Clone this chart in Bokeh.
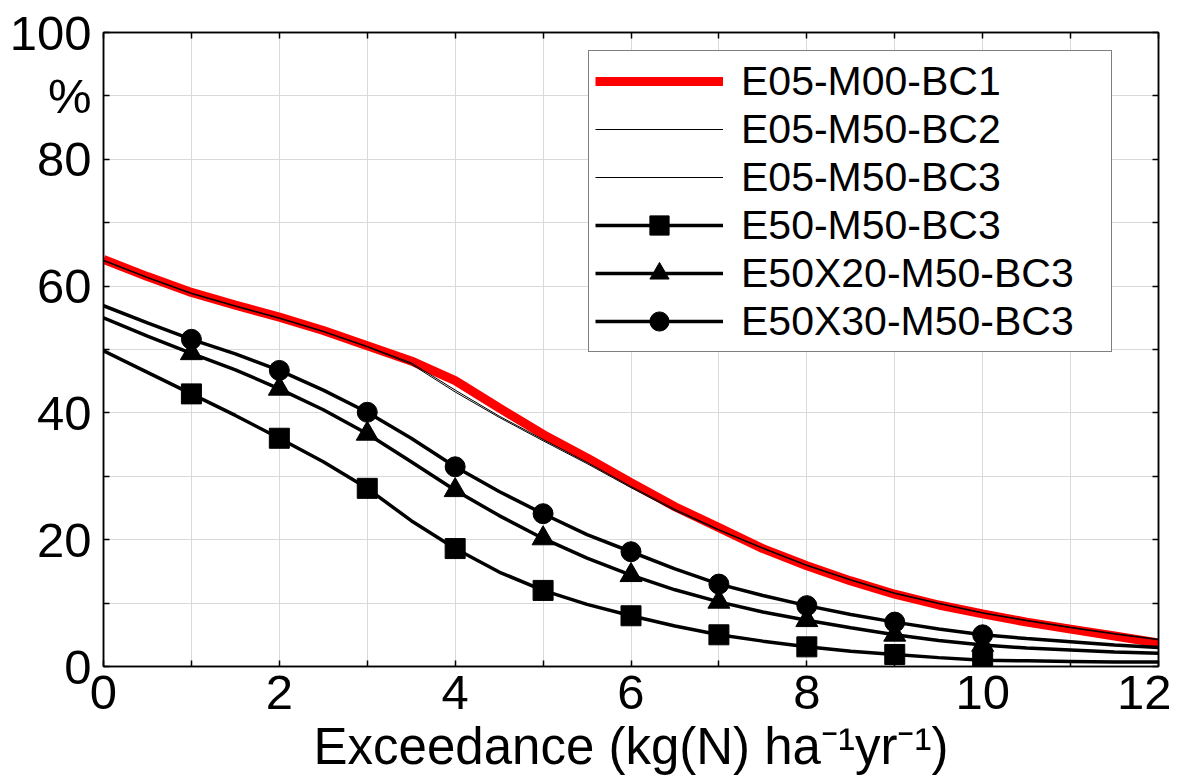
from bokeh.plotting import figure
from bokeh.models import LinearAxis, FixedTicker, Legend, LegendItem, Range1d
from bokeh.embed import file_html
from bokeh.resources import INLINE

# ---- data ----
xs = [0, 0.5, 1, 1.5, 2, 2.5, 3, 3.5, 4, 4.5, 5, 5.5, 6, 6.5, 7, 7.5, 8, 8.5, 9, 9.5, 10, 10.5, 11, 11.5, 12]

e05_m00_bc1 = [64.2, 61.5, 59.0, 57.0, 55.1, 53.0, 50.6, 48.2, 45.1, 40.8, 36.6, 32.9, 29.0, 25.2, 21.9, 18.6,
               15.9, 13.5, 11.4, 9.7, 8.3, 7.0, 5.9, 4.8, 3.7]
e05_m50_bc2 = [64.1, 61.4, 58.9, 56.9, 55.0, 52.9, 50.5, 47.9, 43.6, 39.5, 35.8, 32.2, 28.4, 24.8, 21.6, 18.7,
               16.0, 13.7, 11.6, 10.0, 8.5, 7.3, 6.2, 5.2, 4.3]
e05_m50_bc3 = [64.0, 61.3, 58.8, 56.8, 54.9, 52.8, 50.4, 47.7, 43.3, 39.3, 35.6, 32.0, 28.2, 24.6, 21.5, 18.6,
               15.9, 13.6, 11.5, 9.9, 8.4, 7.2, 6.1, 5.1, 4.2]
e50_m50_bc3 = [49.8, 46.4, 43.0, 39.6, 36.0, 32.3, 28.1, 23.0, 18.6, 14.9, 12.0, 9.8, 8.0, 6.4, 5.0, 4.0,
               3.1, 2.4, 1.9, 1.4, 1.0, 0.9, 0.8, 0.7, 0.7]
e50x20_m50_bc3 = [55.0, 52.1, 49.4, 46.8, 43.8, 40.5, 36.7, 32.3, 27.8, 23.8, 20.2, 17.1, 14.4, 12.1, 10.2, 8.6,
                  7.3, 6.1, 5.0, 4.1, 3.4, 2.9, 2.6, 2.3, 2.1]
e50x30_m50_bc3 = [56.9, 54.2, 51.6, 49.3, 46.7, 43.6, 40.1, 36.0, 31.5, 27.6, 24.1, 20.8, 18.1, 15.4, 13.0, 11.2,
                  9.6, 8.2, 7.0, 5.9, 5.0, 4.4, 3.9, 3.4, 3.0]

marker_x = [1, 2, 3, 4, 5, 6, 7, 8, 9, 10]
sq_y = [43.0, 36.0, 28.1, 18.6, 12.0, 8.0, 5.0, 3.1, 1.9, 1.0]
tri_y = [49.4, 43.8, 36.7, 27.8, 20.2, 14.4, 10.2, 7.3, 5.0, 3.4]
cir_y = [51.6, 46.7, 40.1, 31.5, 24.1, 18.1, 13.0, 9.6, 7.0, 5.0]

x_ticks = [0, 1, 2, 3, 4, 5, 6, 7, 8, 9, 10, 11, 12]
y_ticks = [0, 10, 20, 30, 40, 50, 60, 70, 80, 90, 100]
x_tick_labels = {1: "", 3: "", 5: "", 7: "", 9: "", 11: ""}
y_tick_labels = {10: "", 30: "", 50: "", 70: "", 90: "%"}

FONT = "Liberation Sans"

p = figure(width=1171, height=780, output_backend="svg", toolbar_location=None,
           x_range=Range1d(0, 12), y_range=Range1d(0, 100),
           min_border_left=103, min_border_right=13, min_border_top=32, min_border_bottom=114)
p.background_fill_color = "white"
p.border_fill_color = "white"
p.outline_line_color = "black"
p.outline_line_width = 1.5

# axes
for ax in (p.xaxis[0], p.yaxis[0]):
    ax.major_tick_in = 6
    ax.major_tick_out = 0
    ax.minor_tick_in = 0
    ax.minor_tick_out = 0
    ax.axis_line_color = "black"
    ax.axis_line_width = 1.5
    ax.major_tick_line_width = 1.5
    ax.major_label_text_font = FONT
    ax.major_label_text_font_size = "49px"
    ax.major_label_text_color = "black"

p.xaxis.ticker = FixedTicker(ticks=x_ticks)
p.xaxis.major_label_overrides = x_tick_labels
p.xaxis.major_label_standoff = 9
p.xaxis.axis_label = "Exceedance (kg(N) ha\u207b\u00b9yr\u207b\u00b9)"
p.xaxis.axis_label_text_font = FONT
p.xaxis.axis_label_text_font_size = "51px"
p.xaxis.axis_label_text_font_style = "normal"
p.xaxis.axis_label_text_color = "black"
p.xaxis.axis_label_standoff = 6

p.yaxis.ticker = FixedTicker(ticks=y_ticks)
p.yaxis.major_label_overrides = y_tick_labels
p.yaxis.major_label_standoff = 12

for loc, ticks in (("above", x_ticks), ("right", y_ticks)):
    ax = LinearAxis(ticker=FixedTicker(ticks=ticks),
                    major_label_overrides={t: "" for t in ticks},
                    major_label_text_font_size="6px", major_label_standoff=0,
                    major_tick_in=6, major_tick_out=0, minor_tick_in=0, minor_tick_out=0,
                    axis_line_color="black", axis_line_width=1.5, major_tick_line_width=1.5)
    p.add_layout(ax, loc)

p.xgrid.grid_line_color = "#d9d9d9"
p.ygrid.grid_line_color = "#d9d9d9"
p.xgrid.grid_line_width = 1
p.ygrid.grid_line_width = 1

# series
r_red = p.line(xs, e05_m00_bc1, line_color="#ff0000", line_width=9)
r_bc2 = p.line(xs, e05_m50_bc2, line_color="black", line_width=1)
r_bc3 = p.line(xs, e05_m50_bc3, line_color="black", line_width=1)
r_sq_l = p.line(xs, e50_m50_bc3, line_color="black", line_width=3.5)
r_sq_m = p.scatter(marker_x, sq_y, marker="square", size=20, fill_color="black", line_color="black")
r_tr_l = p.line(xs, e50x20_m50_bc3, line_color="black", line_width=3.5)
r_tr_m = p.scatter(marker_x, tri_y, marker="triangle", size=22, fill_color="black", line_color="black")
r_ci_l = p.line(xs, e50x30_m50_bc3, line_color="black", line_width=3.5)
r_ci_m = p.scatter(marker_x, cir_y, marker="circle", size=20, fill_color="black", line_color="black")

legend = Legend(items=[
    LegendItem(label="E05-M00-BC1", renderers=[r_red]),
    LegendItem(label="E05-M50-BC2", renderers=[r_bc2]),
    LegendItem(label="E05-M50-BC3", renderers=[r_bc3]),
    LegendItem(label="E50-M50-BC3", renderers=[r_sq_l, r_sq_m]),
    LegendItem(label="E50X20-M50-BC3", renderers=[r_tr_l, r_tr_m]),
    LegendItem(label="E50X30-M50-BC3", renderers=[r_ci_l, r_ci_m]),
], location=(485, 314))
legend.border_line_color = "black"
legend.border_line_width = 1.5
legend.background_fill_color = "white"
legend.background_fill_alpha = 1
legend.label_text_font = FONT
legend.label_text_font_size = "41px"
legend.label_text_color = "black"
legend.padding = 6
legend.spacing = 0
legend.margin = 0
legend.label_height = 48
legend.glyph_height = 48
legend.glyph_width = 128
legend.label_standoff = 18
legend.label_width = 364
p.add_layout(legend)

open("out.html", "w").write(file_html(p, INLINE))
